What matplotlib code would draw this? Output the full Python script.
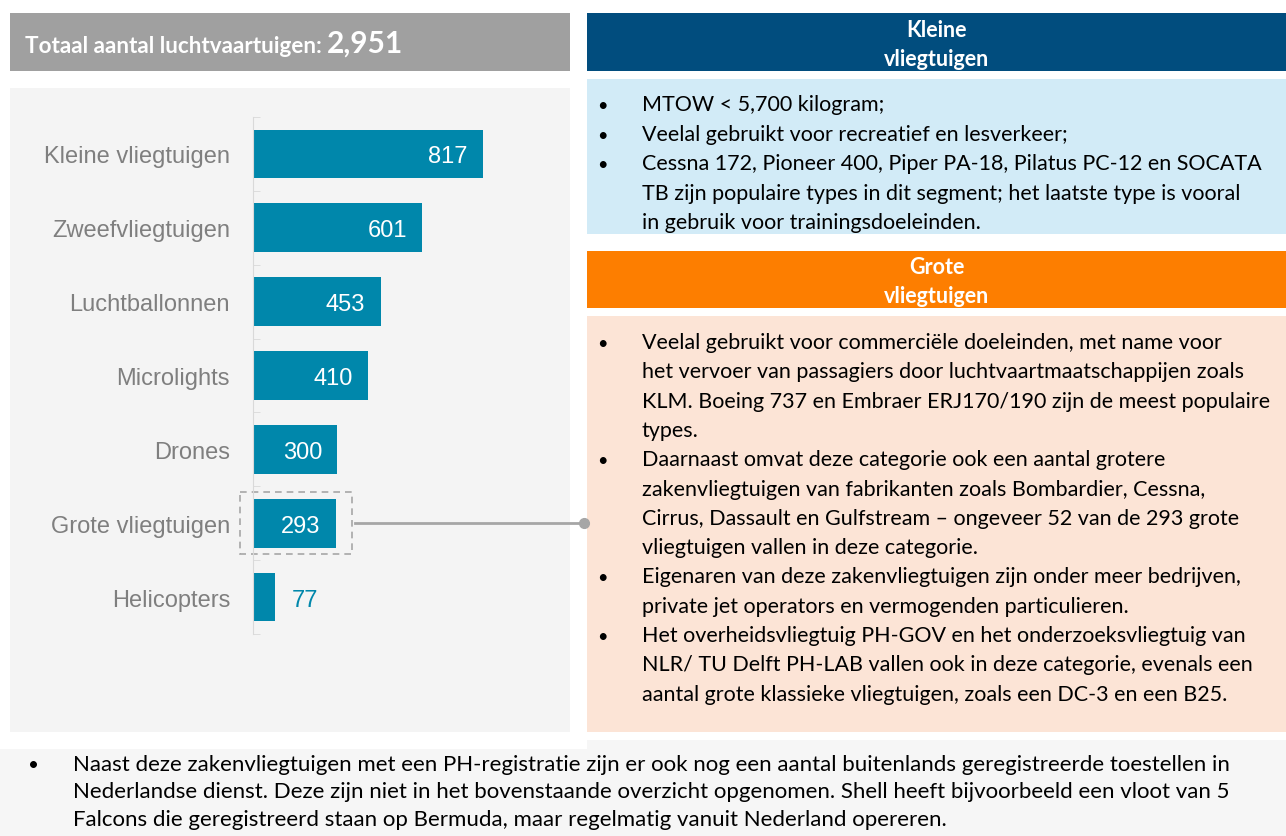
import matplotlib.pyplot as plt
from matplotlib.patches import Rectangle
from matplotlib import transforms
import numpy as np

categories = ['Kleine vliegtuigen', 'Zweefvliegtuigen', 'Luchtballonnen', 'Microlights',
              'Drones', 'Grote vliegtuigen', 'Helicopters']
counts = [817, 601, 453, 410, 300, 293, 77]
highlight = 'Grote vliegtuigen'

title_text = 'Totaal aantal luchtvaartuigen: '
total_label = '2,951'

small_title = 'Kleine\nvliegtuigen'
small_bullets = [
    'MTOW < 5,700 kilogram;',
    'Veelal gebruikt voor recreatief en lesverkeer;',
    'Cessna 172, Pioneer 400, Piper PA-18, Pilatus PC-12 en SOCATA\n'
    'TB zijn populaire types in dit segment; het laatste type is vooral\n'
    'in gebruik voor trainingsdoeleinden.',
]
large_title = 'Grote\nvliegtuigen'
large_bullets = [
    'Veelal gebruikt voor commerciële doeleinden, met name voor\n'
    'het vervoer van passagiers door luchtvaartmaatschappijen zoals\n'
    'KLM. Boeing 737 en Embraer ERJ170/190 zijn de meest populaire\n'
    'types.',
    'Daarnaast omvat deze categorie ook een aantal grotere\n'
    'zakenvliegtuigen van fabrikanten zoals Bombardier, Cessna,\n'
    'Cirrus, Dassault en Gulfstream – ongeveer 52 van de 293 grote\n'
    'vliegtuigen vallen in deze categorie.',
    'Eigenaren van deze zakenvliegtuigen zijn onder meer bedrijven,\n'
    'private jet operators en vermogenden particulieren.',
    'Het overheidsvliegtuig PH-GOV en het onderzoeksvliegtuig van\n'
    'NLR/ TU Delft PH-LAB vallen ook in deze categorie, evenals een\n'
    'aantal grote klassieke vliegtuigen, zoals een DC-3 en een B25.',
]
note_bullets = [
    'Naast deze zakenvliegtuigen met een PH-registratie zijn er ook nog een aantal buitenlands geregistreerde toestellen in\n'
    'Nederlandse dienst. Deze zijn niet in het bovenstaande overzicht opgenomen. Shell heeft bijvoorbeeld een vloot van 5\n'
    'Falcons die geregistreerd staan op Bermuda, maar regelmatig vanuit Nederland opereren.',
]

TEAL = '#0087AB'
GREY_HEAD = '#A0A0A0'
PANEL = '#F4F4F4'
NAVY = '#014D7E'
LIGHT_BLUE = '#D2EBF7'
ORANGE = '#FD7E00'
PEACH = '#FCE4D6'
TXT_FONT = ['Lato', 'DejaVu Sans']
BAR_FONT = ['Liberation Sans', 'DejaVu Sans']

W, H = 1286, 837
fig = plt.figure(figsize=(W / 100, H / 100), dpi=100)
bg = fig.add_axes([0, 0, 1, 1])
bg.set_xlim(0, W)
bg.set_ylim(H, 0)
bg.axis('off')


def box(x0, y0, x1, y1, color):
    bg.add_patch(Rectangle((x0, y0), x1 - x0, y1 - y0, facecolor=color, lw=0))


def bullets(paras, x_dot, x_text, y0, step, size):
    y = y0
    for p in paras:
        bg.text(x_dot, y, '•', fontsize=size * 0.85, family=TXT_FONT, va='baseline', color='black')
        for line in p.split('\n'):
            bg.text(x_text, y, line, fontsize=size, family=TXT_FONT, va='baseline', color='black')
            y += step


# backgrounds
box(0, 741, W, H, '#F6F6F6')
box(0, 733, 587, 750, 'white')
box(10, 14, 570, 72, GREY_HEAD)
box(10, 89, 570, 733, PANEL)
box(587, 14, W, 72, NAVY)
box(587, 80, W, 235, LIGHT_BLUE)
box(587, 252, W, 309, ORANGE)
box(587, 317, W, 733, PEACH)

# header left
t1 = bg.text(25, 53, title_text, fontsize=16.2, weight='bold', color='white',
             family=TXT_FONT, va='baseline')
bg.annotate(total_label, xy=(1, 53), xycoords=(t1, 'data'), fontsize=21.5, weight='bold',
            color='white', family=TXT_FONT, va='baseline', ha='left')

# right headers
for title, base in [(small_title, 37), (large_title, 274)]:
    for k, line in enumerate(title.split('\n')):
        bg.text(937, base + 29 * k, line, fontsize=15.5, weight='bold', color='white',
                family=TXT_FONT, ha='center', va='baseline')

bullets(small_bullets, 597, 642, 111, 29.6, 15.5)
bullets(large_bullets, 597, 642, 349, 29.3, 15.5)
bullets(note_bullets, 28, 73, 771, 27.5, 16)

# bar chart
ax_l, ax_r, ax_t, ax_b = 253, 560, 118, 635
ax = fig.add_axes([ax_l / W, (H - ax_b) / H, (ax_r - ax_l) / W, (ax_b - ax_t) / H])
ax.patch.set_alpha(0)
xmax = 1090
ax.set_xlim(0, xmax)
px = (ax_r - ax_l) / xmax
ypos = np.arange(len(categories))
ax.barh(ypos, counts, height=0.66, color=TEAL)
ax.set_ylim(len(categories) - 0.5, -0.5)
ax.set_yticks(ypos, categories)
ax.set_yticks(np.arange(-0.5, len(categories), 1), minor=True)
ax.tick_params(axis='y', which='major', length=0, pad=16.5, labelsize=17, labelcolor='#7F7F7F')
ax.tick_params(axis='y', which='minor', direction='in', length=5, color='#D9D9D9')
for lab in ax.get_yticklabels():
    lab.set_family(BAR_FONT)
ax.set_xticks([])
for s in ['top', 'right', 'bottom']:
    ax.spines[s].set_visible(False)
ax.spines['left'].set_color('#D9D9D9')

for i, v in enumerate(counts):
    if v * px > 60:
        ax.annotate(str(v), xy=(v, i), xytext=(-11, 0), textcoords='offset points',
                    ha='right', va='center_baseline', color='white', fontsize=17, family=BAR_FONT)
    else:
        ax.annotate(str(v), xy=(v, i), xytext=(12, 0), textcoords='offset points',
                    ha='left', va='center_baseline', color=TEAL, fontsize=17, family=BAR_FONT)

# highlight box + connector
hi = categories.index(highlight)
x0 = -13 / px
x1 = counts[hi] + 16.5 / px
ax.add_patch(Rectangle((x0, hi - 0.42), x1 - x0, 0.84, fill=False, ls=(0, (4, 3)),
                       ec='#A6A6A6', lw=1.2, clip_on=False))
blend = transforms.blended_transform_factory(bg.transData, ax.transData)
right_px = ax_l + x1 * px
ax.plot([right_px + 3, 584], [hi, hi], color='#A6A6A6', lw=2, transform=blend, clip_on=False)
ax.plot([584], [hi], marker='o', ms=7, color='#A6A6A6', transform=blend, clip_on=False)

fig.savefig('out.png', dpi=100)
